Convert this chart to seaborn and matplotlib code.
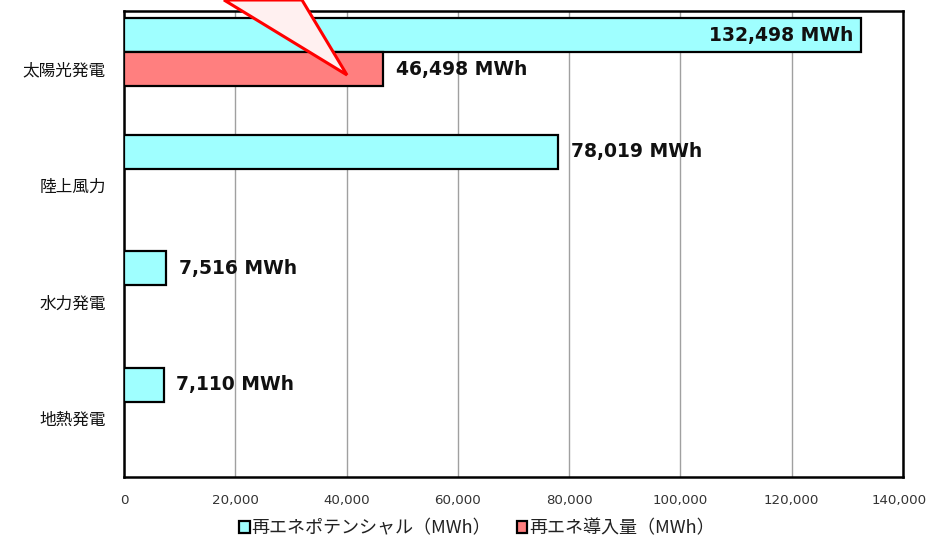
import pandas as pd
import matplotlib.pyplot as plt
import matplotlib.ticker as mticker
import matplotlib.transforms as mtransforms
from matplotlib.patches import Polygon
import seaborn as sns

# 値は画像から読み取り
categories = ["太陽光発電", "陸上風力", "水力発電", "地熱発電"]
potential = [132498, 78019, 7516, 7110]
introduced = [46498, None, None, None]
series_names = ["再エネポテンシャル（MWh）", "再エネ導入量（MWh）"]
colors = ["#9FFFFF", "#FF7F7F"]

rows = []
for c, p, q in zip(categories, potential, introduced):
    rows.append({"区分": c, "系列": series_names[0], "値": p})
    if q is not None:
        rows.append({"区分": c, "系列": series_names[1], "値": q})
df = pd.DataFrame(rows)

sns.set_style("white")
plt.rcParams["font.family"] = ["Noto Sans CJK JP", "DejaVu Sans"]

fig = plt.figure(figsize=(9.29, 5.44), dpi=100)
ax = fig.add_axes([124 / 929, 1 - 477 / 544, 779 / 929, 466 / 544])

width = 0.584
sns.barplot(data=df, y="区分", x="値", hue="系列", order=categories,
            hue_order=series_names, palette=colors, orient="h", saturation=1,
            width=width, edgecolor="black", linewidth=1.6, ax=ax,
            legend=True, zorder=3)

off = width / 4
ax.set_ylim(3.5 + off, -0.5 + off)
ax.set_yticks([i + off for i in range(len(categories))])
ax.set_yticklabels(categories, fontsize=12, color="#111111")
ax.set_xlim(0, 140000)
ax.set_xticks(range(0, 140001, 20000))
ax.xaxis.set_major_formatter(mticker.FuncFormatter(lambda v, p: f"{int(v):,}"))
ax.tick_params(axis="x", labelsize=9.6, colors="#333333", length=0, pad=12)
xlabs = ax.get_xticklabels()
for lab in xlabs:
    lab.set_family("DejaVu Sans")
# 右端のラベルが切れないよう少し左へ
xlabs[-1].set_transform(xlabs[-1].get_transform()
                        + mtransforms.ScaledTranslation(-4 / 100, 0, fig.dpi_scale_trans))
ax.tick_params(axis="y", length=0, pad=13)
ax.set_xlabel("")
ax.set_ylabel("")
ax.grid(axis="x", color="#a0a0a0", linewidth=1, zorder=0)
ax.set_axisbelow(True)
for s in ax.spines.values():
    s.set_color("black")
    s.set_linewidth(1.8)

# 値ラベル
for cont in ax.containers:
    for bar in cont:
        w = bar.get_width()
        if w != w or w == 0:
            continue
        yc = bar.get_y() + bar.get_height() / 2
        txt = f"{int(round(w)):,} MWh"
        if w > 120000:
            ax.text(w - 1500, yc, txt, ha="right", va="center", color="#111111",
                    fontsize=13.5, fontweight="bold", family="DejaVu Sans", zorder=5)
        else:
            ax.text(w + 2300, yc, txt, ha="left", va="center", color="#111111",
                    fontsize=13.5, fontweight="bold", family="DejaVu Sans", zorder=5)

# 凡例
handles, labels = ax.get_legend_handles_labels()
ax.legend(handles, labels, loc="center", bbox_to_anchor=(0.453, -0.11),
          ncol=2, frameon=False, fontsize=13, handlelength=0.6,
          handleheight=0.6, handletextpad=0.1, columnspacing=1.4,
          labelcolor="#222222")

# 吹き出しの矢印部分
tri = Polygon([(224 / 929, 1.0), (347 / 929, 1 - 75 / 544), (302 / 929, 1.0)],
              closed=True, transform=fig.transFigure, facecolor="#FFF0F0",
              edgecolor="#FF0000", linewidth=2.2, zorder=10, clip_on=False)
fig.patches.append(tri)

fig.savefig("out.png", dpi=100)
